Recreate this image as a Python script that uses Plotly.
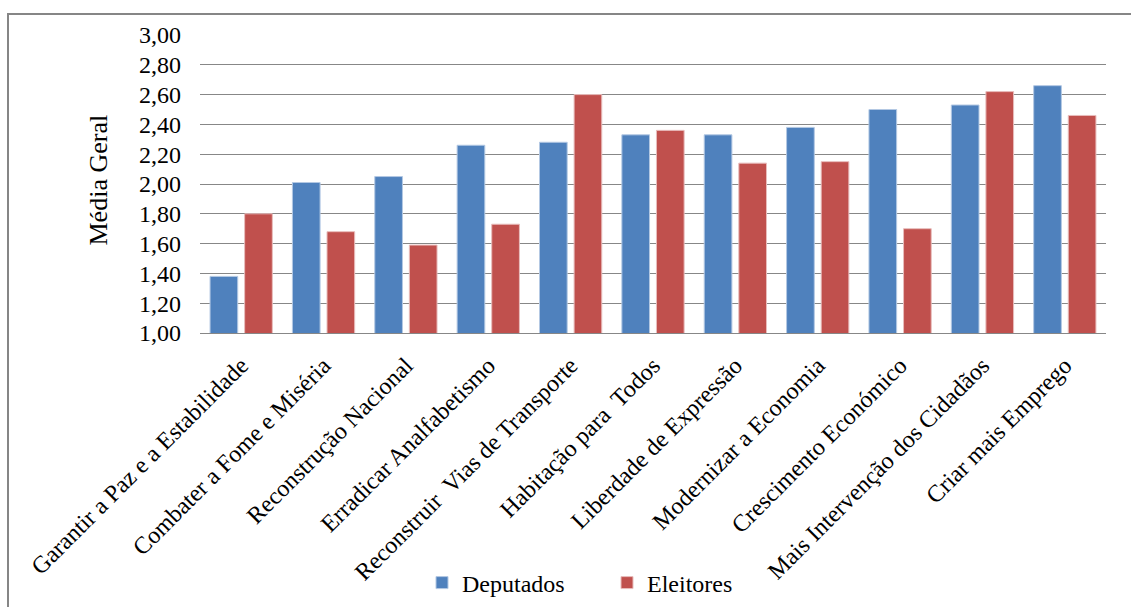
import plotly.graph_objects as go

categories = [
    "Garantir a Paz e a Estabilidade",
    "Combater a Fome e Miséria",
    "Reconstrução Nacional",
    "Erradicar Analfabetismo",
    "Reconstruir  Vias de Transporte",
    "Habitação para  Todos",
    "Liberdade de Expressão",
    "Modernizar a Economia",
    "Crescimento Económico",
    "Mais Intervenção dos Cidadãos",
    "Criar mais Emprego",
]
deputados = [1.38, 2.01, 2.05, 2.26, 2.28, 2.33, 2.33, 2.38, 2.50, 2.53, 2.66]
eleitores = [1.80, 1.68, 1.59, 1.73, 2.60, 2.36, 2.14, 2.15, 1.70, 2.62, 2.46]
y_ticks = [1.0, 1.2, 1.4, 1.6, 1.8, 2.0, 2.2, 2.4, 2.6, 2.8, 3.0]

FONT = "Liberation Serif, Times New Roman, serif"
W, H = 1131, 607
ML, MR, MT, MB = 200, 25, 35, 274
PW, PH = W - ML - MR, H - MT - MB

fig = go.Figure()
fig.add_trace(go.Bar(
    x=categories, y=deputados, name="Deputados",
    marker=dict(color="#4F81BD", line=dict(color="#B3C8E3", width=1)),
))
fig.add_trace(go.Bar(
    x=categories, y=eleitores, name="Eleitores",
    marker=dict(color="#C0504D", line=dict(color="#E8BDBC", width=1)),
))

def px_x(p):
    return (p - ML) / PW

def px_y(p):
    return (H - MB - p) / PH

fig.update_layout(
    width=W, height=H,
    margin=dict(l=ML, r=MR, t=MT, b=MB, autoexpand=False),
    paper_bgcolor="white", plot_bgcolor="white",
    separators=", ",
    barmode="group", bargap=0.16, bargroupgap=0.2,
    font=dict(family=FONT, size=24, color="black"),
    showlegend=True,
    legend=dict(
        orientation="h", xref="container", yref="container",
        x=422 / W, y=1 - 583 / H, xanchor="left", yanchor="middle",
        font=dict(family=FONT, size=24, color="black"),
        itemwidth=30, entrywidth=140, entrywidthmode="pixels",
        bgcolor="rgba(0,0,0,0)", traceorder="normal",
    ),
    xaxis=dict(
        tickangle=-45, showgrid=False, showline=True,
        linecolor="#878787", linewidth=1,
        tickfont=dict(family=FONT, size=24, color="black"),
        ticks="", ticklabelstandoff=8,
    ),
    yaxis=dict(
        range=[1, 3], tickvals=y_ticks, tickformat=".2f",
        showgrid=True, gridcolor="#878787", gridwidth=1,
        showline=False, zeroline=False, ticks="",
        tickfont=dict(family=FONT, size=24, color="black"),
        ticklabelstandoff=18,
    ),
    annotations=[dict(
        text="Média Geral", textangle=-90, showarrow=False,
        xref="paper", yref="paper", x=px_x(98), y=px_y(180.5),
        xanchor="center", yanchor="middle",
        font=dict(family=FONT, size=26, color="black"),
    )],
    shapes=[dict(
        type="rect", xref="paper", yref="paper",
        x0=px_x(8), x1=px_x(W + 10), y0=px_y(H + 10), y1=px_y(14),
        line=dict(color="#868686", width=2), fillcolor="rgba(0,0,0,0)",
        layer="below",
    )],
)

fig.write_html("out.html")
